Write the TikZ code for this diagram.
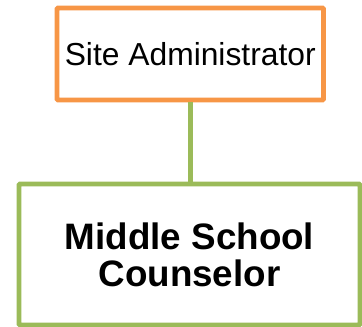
\documentclass[tikz,border=0pt]{standalone}
\usepackage{fontspec}
\setmainfont{Liberation Sans}
\definecolor{boxorange}{HTML}{F79646}
\definecolor{boxgreen}{HTML}{9BBB59}
\begin{document}
\begin{tikzpicture}[x=1pt,y=1pt,
  orgbox/.style={draw, line width=4.8pt, fill=white, inner sep=0pt, rounded corners=1pt, align=center},
  link/.style={draw=boxgreen, line width=4.8pt}]
\useasboundingbox (0,0) rectangle (362,327);
\node[orgbox, draw=boxorange, minimum width=266.5pt, minimum height=92pt,
  font=\fontsize{31.8}{36}\selectfont] (admin) at (190.25,273) {Site Administrator};
\node[orgbox, draw=boxgreen, minimum width=341pt, minimum height=141pt,
  font=\fontsize{36.8}{37}\selectfont\bfseries] (counselor) at (189.5,72.5) {Middle School\\Counselor};
\draw[link] (admin.south) -- (admin.south |- counselor.north);
\end{tikzpicture}
\end{document}
